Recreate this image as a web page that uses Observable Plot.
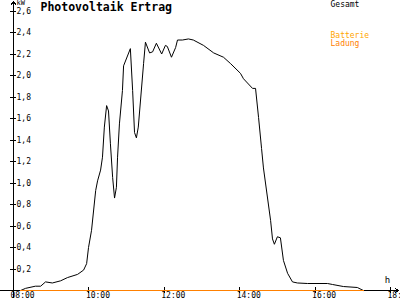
<!DOCTYPE html>
<html><head><meta charset="utf-8">
<script src="https://cdn.jsdelivr.net/npm/d3@7"></script>
<script src="https://cdn.jsdelivr.net/npm/@observablehq/plot@0.6"></script>
<style>body{margin:0;background:#fff}svg{display:block}</style>
</head><body><div id="chart"></div>
<script>
// time in decimal hours, power in kW
const hours = [8.19,8.32,8.58,8.72,8.85,9.03,9.25,9.43,9.70,9.86,9.94,9.99,10.07,10.18,10.23,10.31,10.36,10.41,10.47,10.52,10.57,10.63,10.68,10.73,10.76,10.81,10.89,10.92,11.10,11.16,11.21,11.26,11.31,11.45,11.50,11.61,11.69,11.79,11.93,12.03,12.08,12.19,12.30,12.35,12.48,12.64,12.77,13.04,13.31,13.57,13.76,14.02,14.10,14.34,14.42,14.50,14.58,14.63,14.82,14.87,14.92,15.00,15.08,15.16,15.27,15.40,15.53,15.80,16.33,16.46,16.75,17.12,17.28];
const gesamt = [0.00,0.02,0.04,0.04,0.08,0.07,0.09,0.12,0.15,0.19,0.25,0.40,0.56,0.93,1.02,1.12,1.24,1.52,1.72,1.67,1.37,1.05,0.86,0.96,1.24,1.55,1.86,2.09,2.25,1.86,1.47,1.42,1.52,2.11,2.31,2.21,2.22,2.30,2.20,2.28,2.27,2.17,2.26,2.33,2.33,2.34,2.33,2.28,2.21,2.17,2.11,2.02,1.97,1.88,1.88,1.61,1.32,1.14,0.65,0.48,0.43,0.50,0.49,0.28,0.16,0.08,0.07,0.065,0.065,0.056,0.037,0.028,0.00];
const ladungHours = [8.19, 17.28];
const ladung = [0, 0];
const yTicks = [0.2,0.4,0.6,0.8,1.0,1.2,1.4,1.6,1.8,2.0,2.2,2.4,2.6];
const yTickLabels = ["0,2","0,4","0,6","0,8","1,0","1,2","1,4","1,6","1,8","2,0","2,2","2,4","2,6"];
const xTicks = [8,10,12,14,16,18];
const xTickLabels = ["08:00","10:00","12:00","14:00","16:00","18:00"];
const title = "Photovoltaik Ertrag";
const legendLabels = ["Gesamt","Batterie","Ladung"];
const legendColors = ["#000000","#ffa500","#ff8000"];

const main = hours.map((h,i)=>({h, v:gesamt[i]}));
const bat = ladungHours.map((h,i)=>({h, v:ladung[i]}));
const yt = yTicks.map((v,i)=>({v, label:yTickLabels[i]}));
const xt = xTicks.map((h,i)=>({h, label:xTickLabels[i]}));
const font = "DejaVu Sans Mono";

const chart = Plot.plot({
  width: 400, height: 300, margin: 0,
  style: {fontFamily: font, background: "#fff"},
  x: {domain: [8, 18], range: [13, 390], axis: null},
  y: {domain: [0, 2.6], range: [290, 10.5], axis: null},
  marks: [
    // axes
    Plot.arrow([0], {x1: 7.655, x2: 18.21, y1: 0, y2: 0, stroke: "#000", strokeWidth: 1, headLength: 6, headAngle: 70, shapeRendering: "crispEdges"}),
    Plot.arrow([0], {x1: 8, x2: 8, y1: -0.065, y2: 2.69, stroke: "#000", strokeWidth: 1, headLength: 6, headAngle: 70, shapeRendering: "crispEdges"}),
    Plot.ruleY(yt, {y: "v", x1: 7.92, x2: 8.08, stroke: "#000", shapeRendering: "crispEdges"}),
    Plot.ruleX(xt, {x: "h", y1: -0.03, y2: 0.03, stroke: "#000", shapeRendering: "crispEdges"}),
    Plot.text(yt, {x: 8, y: "v", text: "label", dx: 3, textAnchor: "start", fontSize: 8, fill: "#000"}),
    Plot.text(xt, {x: "h", y: 0, text: "label", dx: -3, dy: 5, textAnchor: "start", lineAnchor: "middle", fontSize: 8, fill: "#000"}),
    Plot.text(["kW"], {x: 8, y: 2.6, dx: 3, dy: -8, textAnchor: "start", fontSize: 7, fill: "#000"}),
    Plot.text(["h"], {x: 18, y: 0, dx: -3, dy: -10, textAnchor: "middle", fontSize: 9, fill: "#000"}),
    // data
    Plot.line(main, {x: "h", y: "v", stroke: "#000", strokeWidth: 1}),
    Plot.line(bat, {x: "h", y: "v", stroke: "#ff8000", strokeWidth: 1.2, shapeRendering: "crispEdges"}),
    // title & legend
    Plot.text([title], {frameAnchor: "top-left", dx: 40, dy: 2, textAnchor: "start", lineAnchor: "top", fontSize: 11.5, fontWeight: "bold", fill: "#000"}),
    Plot.text(legendLabels.slice(0,1), {frameAnchor: "top-left", dx: 330, dy: 1, textAnchor: "start", lineAnchor: "top", fontSize: 8, fill: legendColors[0]}),
    Plot.text(legendLabels.slice(1,2), {frameAnchor: "top-left", dx: 330, dy: 32, textAnchor: "start", lineAnchor: "top", fontSize: 8, fill: legendColors[1]}),
    Plot.text(legendLabels.slice(2,3), {frameAnchor: "top-left", dx: 330, dy: 40, textAnchor: "start", lineAnchor: "top", fontSize: 8, fill: legendColors[2]})
  ]
});
document.getElementById("chart").append(chart);
</script>
</body></html>
